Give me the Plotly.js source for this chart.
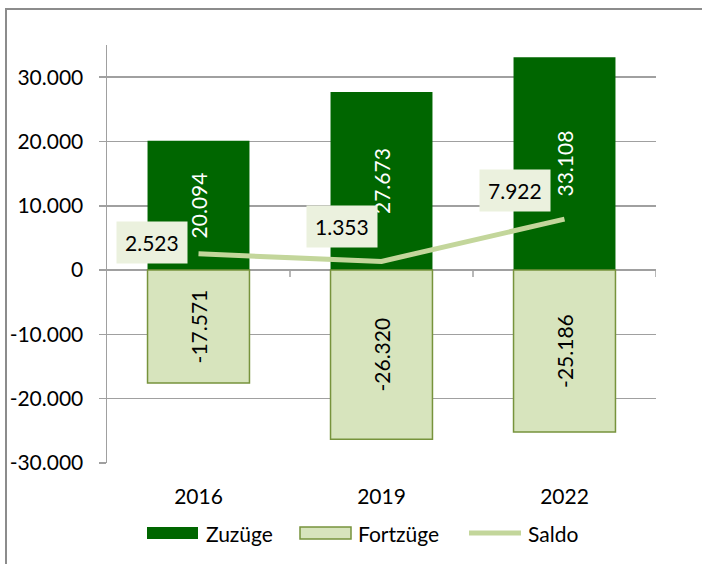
<!DOCTYPE html>
<html>
<head>
<meta charset="utf-8">
<script src="https://cdn.plot.ly/plotly-3.0.1.min.js"></script>
<style>
html,body{margin:0;padding:0;overflow:hidden;background:#fff;}
#chart{position:absolute;left:0;top:0;width:702px;height:564px;}
#frame{position:absolute;left:5px;top:8px;width:800px;height:700px;border:2px solid #8c8c8c;pointer-events:none;}
</style>
</head>
<body>
<div id="chart"></div>
<div id="frame"></div>
<script>
// ---- data ----
const years = ['2016', '2019', '2022'];
const zuzuege = [20094, 27673, 33108];
const fortzuege = [-17571, -26320, -25186];
const saldo = [2523, 1353, 7922];
const yTickVals = [30000, 20000, 10000, 0, -10000, -20000, -30000];
const yTickText = ['30.000', '20.000', '10.000', '0', '-10.000', '-20.000', '-30.000'];
const legendNames = ['Zuzüge', 'Fortzüge', 'Saldo'];

// ---- styling ----
const FONT = 'Lato, "Open Sans", sans-serif';
const FS = 21;
const DARK = '#006600';
const LIGHT = '#D7E4BD';
const LIGHT_EDGE = '#77933C';
const LINE = '#C3D69B';
const GRID = '#a0a0a0';
// offsets of the saldo labels (pixels)
const saldoShift = [[-11, 11], [-4, 35], [-14, 29]];

function fmt(v) {
  const s = Math.abs(v).toString().replace(/\B(?=(\d{3})+(?!\d))/g, '.');
  return (v < 0 ? '-' : '') + s;
}

// plot area in pixels
const L = 107, R = 656, T = 45, B = 463;
function px(x) { return (x - L) / (R - L); }
function py(y) { return (B - y) / (B - T); }

const traces = [
  {
    type: 'bar', name: legendNames[0], x: years, y: zuzuege,
    marker: {color: DARK, line: {width: 0}},
    text: zuzuege.map(fmt), texttemplate: '%{text}',
    textposition: 'inside', insidetextanchor: 'middle', textangle: -90,
    insidetextfont: {family: FONT, size: FS, color: '#ffffff'},
    constraintext: 'none', hoverinfo: 'skip'
  },
  {
    type: 'bar', name: legendNames[1], x: years, y: fortzuege,
    marker: {color: LIGHT, line: {color: LIGHT_EDGE, width: 1.5}},
    text: fortzuege.map(fmt), texttemplate: '%{text}',
    textposition: 'inside', insidetextanchor: 'middle', textangle: -90,
    insidetextfont: {family: FONT, size: FS, color: '#000000'},
    constraintext: 'none', hoverinfo: 'skip'
  },
  {
    type: 'scatter', mode: 'lines', name: legendNames[2], x: years, y: saldo,
    line: {color: LINE, width: 5}, hoverinfo: 'skip'
  }
];

const annotations = saldo.map((v, i) => ({
  x: i, y: v, xref: 'x', yref: 'y',
  text: fmt(v), showarrow: false,
  xanchor: 'right', yanchor: 'middle',
  xshift: saldoShift[i][0], yshift: saldoShift[i][1],
  bgcolor: '#EBF1DE', borderpad: 8,
  font: {family: FONT, size: FS, color: '#000'}
}));

// custom legend
const legendY = 533;
const shapes = [];
// category boundary ticks on the zero line
[0.5, 1.5, 2.5].forEach(b => {
  shapes.push({type: 'line', xref: 'x', yref: 'y', x0: b, x1: b,
    ysizemode: 'pixel', yanchor: 0, y0: 0, y1: -7,
    line: {color: GRID, width: 1.5}});
});
shapes.push({type: 'rect', xref: 'paper', yref: 'paper',
  x0: px(147), x1: px(198), y0: py(539), y1: py(527),
  fillcolor: DARK, line: {width: 0}});
shapes.push({type: 'rect', xref: 'paper', yref: 'paper',
  x0: px(300), x1: px(351), y0: py(539), y1: py(527),
  fillcolor: LIGHT, line: {color: LIGHT_EDGE, width: 1.5}});
shapes.push({type: 'line', xref: 'paper', yref: 'paper',
  x0: px(469), x1: px(521), y0: py(legendY), y1: py(legendY),
  line: {color: LINE, width: 5}});
const legendText = [[204, legendNames[0]], [356, legendNames[1]], [526, legendNames[2]]];
legendText.forEach(([x, t]) => annotations.push({
  xref: 'paper', yref: 'paper', x: px(x), y: py(legendY),
  xanchor: 'left', yanchor: 'middle', text: t, showarrow: false,
  font: {family: FONT, size: FS, color: '#000'}
}));

const layout = {
  width: 702, height: 564,
  margin: {l: L, r: 702 - R, t: T, b: 564 - B},
  paper_bgcolor: '#fff', plot_bgcolor: '#fff',
  barmode: 'relative', bargap: 0.443,
  showlegend: false,
  separators: ',.',
  font: {family: FONT, size: FS, color: '#000'},
  xaxis: {
    type: 'category', range: [-0.5, 2.5],
    showgrid: false, showline: false, zeroline: false,
    ticks: '', ticklabelstandoff: 19,
    tickfont: {family: FONT, size: FS, color: '#000'}
  },
  yaxis: {
    range: [-30000, 35000],
    tickvals: yTickVals, ticktext: yTickText,
    showgrid: true, gridcolor: GRID, gridwidth: 1.5,
    zeroline: true, zerolinecolor: GRID, zerolinewidth: 1.5,
    showline: true, linecolor: GRID, linewidth: 1.5,
    ticks: 'outside', ticklen: 7, tickcolor: GRID, tickwidth: 1.5,
    ticklabelstandoff: 11,
    tickfont: {family: FONT, size: FS, color: '#000'}
  },
  shapes: shapes,
  annotations: annotations
};

Plotly.newPlot('chart', traces, layout, {staticPlot: true, displayModeBar: false});
</script>
</body>
</html>
